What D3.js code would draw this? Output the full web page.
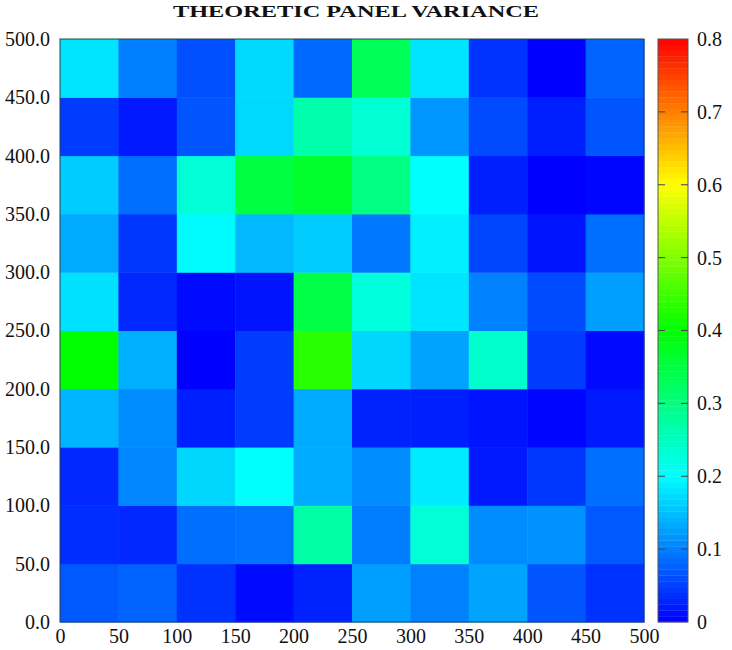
<!DOCTYPE html>
<html>
<head>
<meta charset="utf-8">
<script src="https://cdn.jsdelivr.net/npm/d3@7"></script>
<style>
  html, body { margin: 0; padding: 0; background: #fff; }
  svg { display: block; }
  text { font-family: "Liberation Serif", "DejaVu Serif", serif; fill: #111; }
</style>
</head>
<body>
<svg id="chart" width="732" height="650"></svg>
<script>
// Cell centres / bin edges
const xEdges = [0, 50, 100, 150, 200, 250, 300, 350, 400, 450, 500];
const yEdges = [0, 50, 100, 150, 200, 250, 300, 350, 400, 450, 500];
const xTicks = [0, 50, 100, 150, 200, 250, 300, 350, 400, 450, 500];
const yTicks = [0, 50, 100, 150, 200, 250, 300, 350, 400, 450, 500];
const cTicks = [0, 0.1, 0.2, 0.3, 0.4, 0.5, 0.6, 0.7, 0.8];

// Values by row, bottom row (y 0-50) first, columns x 0-50 ... 450-500
const row0 = [0.070, 0.078, 0.039, 0.008, 0.027, 0.125, 0.102, 0.129, 0.067, 0.039];
const row1 = [0.035, 0.031, 0.086, 0.090, 0.271, 0.098, 0.231, 0.110, 0.114, 0.070];
const row2 = [0.031, 0.106, 0.169, 0.200, 0.133, 0.110, 0.184, 0.020, 0.043, 0.086];
const row3 = [0.141, 0.110, 0.024, 0.047, 0.133, 0.027, 0.024, 0.016, 0.004, 0.020];
const row4 = [0.400, 0.137, 0.000, 0.047, 0.431, 0.169, 0.129, 0.239, 0.047, 0.008];
const row5 = [0.176, 0.031, 0.008, 0.016, 0.345, 0.227, 0.180, 0.102, 0.059, 0.125];
const row6 = [0.133, 0.043, 0.197, 0.145, 0.160, 0.094, 0.188, 0.055, 0.016, 0.086];
const row7 = [0.160, 0.086, 0.231, 0.349, 0.365, 0.298, 0.200, 0.024, 0.000, 0.004];
const row8 = [0.047, 0.020, 0.067, 0.170, 0.267, 0.235, 0.118, 0.059, 0.024, 0.067];
const row9 = [0.180, 0.100, 0.063, 0.170, 0.082, 0.330, 0.180, 0.040, 0.000, 0.078];
const rows = [row0, row1, row2, row3, row4, row5, row6, row7, row8, row9];

const cMin = 0, cMax = 0.8;
const colorStops = [0, 0.2, 0.4, 0.6, 0.8];
const colorRange = ["#0000ff", "#00ffff", "#00ff00", "#ffff00", "#ff0000"];

const svg = d3.select("#chart");
const plot = { left: 60, top: 39, right: 644, bottom: 622 };
const tickFont = "20px";

const x = d3.scaleLinear().domain([0, 500]).range([plot.left, plot.right]);
const y = d3.scaleLinear().domain([0, 500]).range([plot.bottom, plot.top]);
const color = d3.scaleLinear().domain(colorStops).range(colorRange).clamp(true);

// cells
const cells = [];
rows.forEach((r, j) => r.forEach((v, i) => cells.push({ i, j, v })));
svg.append("g").selectAll("rect").data(cells).join("rect")
  .attr("x", d => x(xEdges[d.i]))
  .attr("y", d => y(yEdges[d.j + 1]))
  .attr("width", d => x(xEdges[d.i + 1]) - x(xEdges[d.i]) + 0.5)
  .attr("height", d => y(yEdges[d.j]) - y(yEdges[d.j + 1]) + 0.5)
  .attr("fill", d => color(d.v));

// frame
svg.append("rect")
  .attr("x", plot.left).attr("y", plot.top)
  .attr("width", plot.right - plot.left).attr("height", plot.bottom - plot.top)
  .attr("fill", "none").attr("stroke", "#264050").attr("stroke-width", 1);

// x axis
const xAxis = d3.axisBottom(x).tickValues(xTicks).tickSize(0).tickPadding(7)
  .tickFormat(d3.format("d"));
const gx = svg.append("g").attr("transform", `translate(0,${plot.bottom})`).call(xAxis);
gx.select(".domain").remove();
gx.selectAll("text").style("font-family", '"Liberation Serif", serif').style("font-size", tickFont).attr("fill", "#111");

// y axis
const yAxis = d3.axisLeft(y).tickValues(yTicks).tickSize(0).tickPadding(10)
  .tickFormat(d3.format(".1f"));
const gy = svg.append("g").attr("transform", `translate(${plot.left},0)`).call(yAxis);
gy.select(".domain").remove();
gy.selectAll("text").style("font-family", '"Liberation Serif", serif').style("font-size", tickFont).attr("fill", "#111");

// colorbar
const cb = { left: 658, right: 688, top: 39, bottom: 622 };
const cy = d3.scaleLinear().domain([cMin, cMax]).range([cb.bottom, cb.top]);
const nSteps = 100;
const steps = d3.range(nSteps).map(k => cMin + (cMax - cMin) * k / nSteps);
svg.append("g").selectAll("rect").data(steps).join("rect")
  .attr("x", cb.left)
  .attr("width", cb.right - cb.left)
  .attr("y", d => cy(d + (cMax - cMin) / nSteps))
  .attr("height", d => cy(d) - cy(d + (cMax - cMin) / nSteps) + 0.3)
  .attr("fill", d => color(d + (cMax - cMin) / nSteps / 2));
svg.append("rect")
  .attr("x", cb.left).attr("y", cb.top)
  .attr("width", cb.right - cb.left).attr("height", cb.bottom - cb.top)
  .attr("fill", "none").attr("stroke", "#555").attr("stroke-width", 1);

// colorbar ticks (inner dashes both sides)
const gc = svg.append("g");
gc.selectAll("line.l").data(cTicks.slice(1, -1)).join("line")
  .attr("x1", cb.left).attr("x2", cb.left + 7)
  .attr("y1", d => cy(d)).attr("y2", d => cy(d))
  .attr("stroke", "#444").attr("stroke-width", 1);
gc.selectAll("line.r").data(cTicks.slice(1, -1)).join("line")
  .attr("x1", cb.right - 7).attr("x2", cb.right)
  .attr("y1", d => cy(d)).attr("y2", d => cy(d))
  .attr("stroke", "#444").attr("stroke-width", 1);

const cAxis = d3.axisRight(cy).tickValues(cTicks).tickSize(0).tickPadding(9)
  .tickFormat(d => d === 0 ? "0" : d3.format(".1f")(d));
const gca = svg.append("g").attr("transform", `translate(${cb.right},0)`).call(cAxis);
gca.select(".domain").remove();
gca.selectAll("text").style("font-family", '"Liberation Serif", serif').style("font-size", tickFont).attr("fill", "#111");

// title
svg.append("text")
  .attr("x", 356).attr("y", 17)
  .attr("text-anchor", "middle")
  .attr("textLength", 366)
  .attr("lengthAdjust", "spacingAndGlyphs")
  .style("font-family", '"Liberation Serif", serif')
  .style("font-size", "17px").style("font-weight", "bold")
  .text("THEORETIC PANEL VARIANCE");
</script>
</body>
</html>
